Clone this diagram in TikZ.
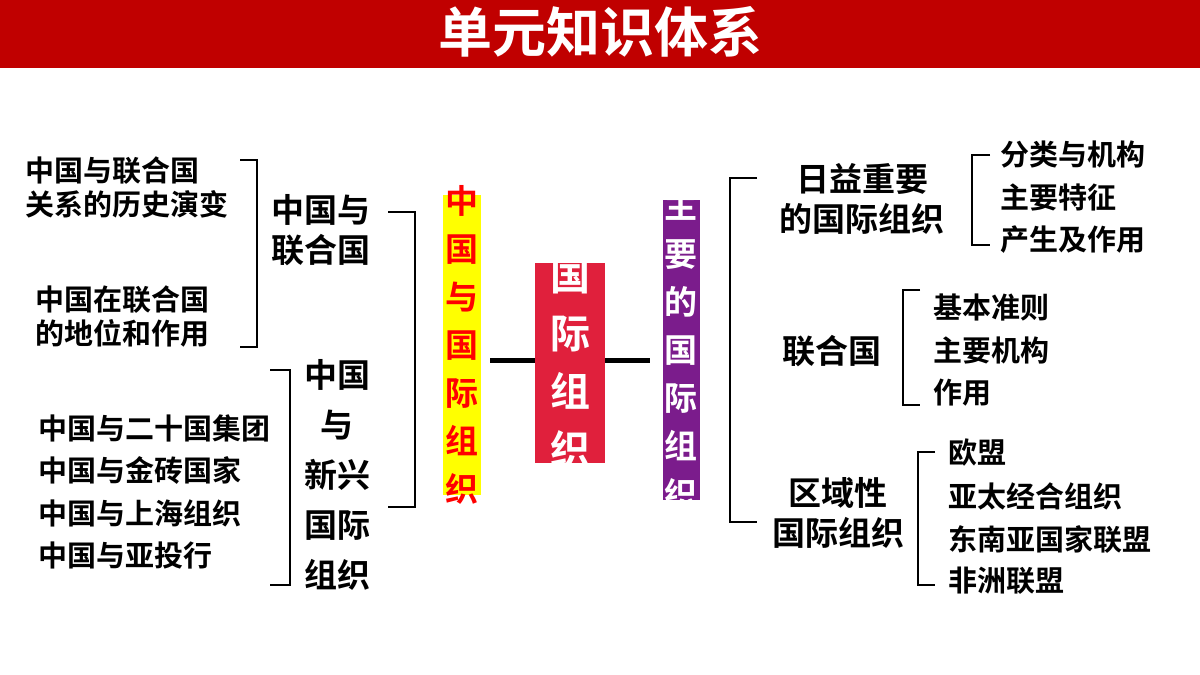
\documentclass[tikz,border=0pt]{standalone}
\usepackage{fontspec}
\setmainfont{Noto Sans CJK SC}[BoldFont={Noto Sans CJK SC Bold}]
\newfontfamily\cjk{Noto Sans CJK SC Bold}
\begin{document}
\begin{tikzpicture}[x=0.5pt,y=-0.5pt]
\definecolor{hdr}{HTML}{C00000}
\definecolor{cred}{HTML}{E0203C}
\definecolor{cpur}{HTML}{7B1C8C}
\definecolor{cyel}{HTML}{FFFF00}
\tikzset{
 t/.style={font=\cjk\fontsize{14.5}{17}\selectfont, align=left, inner sep=0pt},
 tm/.style={font=\cjk\fontsize{16.5}{20}\selectfont, align=center, inner sep=0pt},
 br/.style={line width=1.2pt, black},
 vbox/.style={inner sep=0pt, align=center},
 bar/.style={line width=2.5pt, black}
}
\useasboundingbox (0,0) rectangle (1200,675);
\fill[white] (0,0) rectangle (1200,675);
\fill[hdr] (0,0) rectangle (1200,68);
\node[font=\cjk\fontsize{27}{30}\selectfont, text=white] (title) at (600,32) {单元知识体系};
% center boxes
\fill[cred] (535,263) rectangle (605,463);
\node[vbox, font=\cjk\fontsize{20}{29}\selectfont, text=white] (c) at (570,363) {国\\际\\组\\织};
\fill[cyel] (443,195) rectangle (481,495);
\node[vbox, font=\cjk\fontsize{16.5}{24}\selectfont, text=red] (l) at (462,345) {中\\国\\与\\国\\际\\组\\织};
\fill[cpur] (663,200) rectangle (700,500);
\node[vbox, font=\cjk\fontsize{16.5}{24}\selectfont, text=white] (r) at (681,350) {主\\要\\的\\国\\际\\组\\织};
\coordinate (la) at (490,360); \coordinate (ra) at (650,360);
\draw[bar] (la) -- (535,360);
\draw[bar] (605,360) -- (ra);
% left side
\draw[br] (388,212) -- (415,212) -- (415,507) -- (388,507);
\node[tm] (a1) at (321,230) {中国与\\联合国};
\node[tm, font=\cjk\fontsize{16.5}{25}\selectfont] (a2) at (337,475) {中国\\与\\新兴\\国际\\组织};
\draw[br] (240,160) -- (257,160) -- (257,347) -- (240,347);
\node[t, anchor=west] (b1) at (25,187) {中国与联合国\\关系的历史演变};
\node[t, anchor=west] (b2) at (35,316) {中国在联合国\\的地位和作用};
\draw[br] (270,370) -- (290,370) -- (290,585) -- (270,585);
\node[t, anchor=west] (c1) at (38,428) {中国与二十国集团};
\node[t, anchor=west] (c2) at (38,470) {中国与金砖国家};
\node[t, anchor=west] (c3) at (38,513) {中国与上海组织};
\node[t, anchor=west] (c4) at (38,555) {中国与亚投行};
% right side
\draw[br] (757,178) -- (730,178) -- (730,522) -- (757,522);
\node[tm] (d1) at (862,199) {日益重要\\的国际组织};
\node[tm] (d2) at (832,351) {联合国};
\node[tm] (d3) at (838,513) {区域性\\国际组织};
\draw[br] (990,155) -- (972,155) -- (972,245) -- (990,245);
\node[t, anchor=west] (e1) at (1000,155) {分类与机构};
\node[t, anchor=west] (e2) at (1000,197) {主要特征};
\node[t, anchor=west] (e3) at (1000,240) {产生及作用};
\draw[br] (920,290) -- (903,290) -- (903,405) -- (920,405);
\node[t, anchor=west] (f1) at (933,307) {基本准则};
\node[t, anchor=west] (f2) at (933,350) {主要机构};
\node[t, anchor=west] (f3) at (933,393) {作用};
\draw[br] (935,452) -- (918,452) -- (918,585) -- (935,585);
\node[t, anchor=west] (g1) at (948,453) {欧盟};
\node[t, anchor=west] (g2) at (948,496) {亚太经合组织};
\node[t, anchor=west] (g3) at (948,539) {东南亚国家联盟};
\node[t, anchor=west] (g4) at (948,581) {非洲联盟};
\end{tikzpicture}
\end{document}
